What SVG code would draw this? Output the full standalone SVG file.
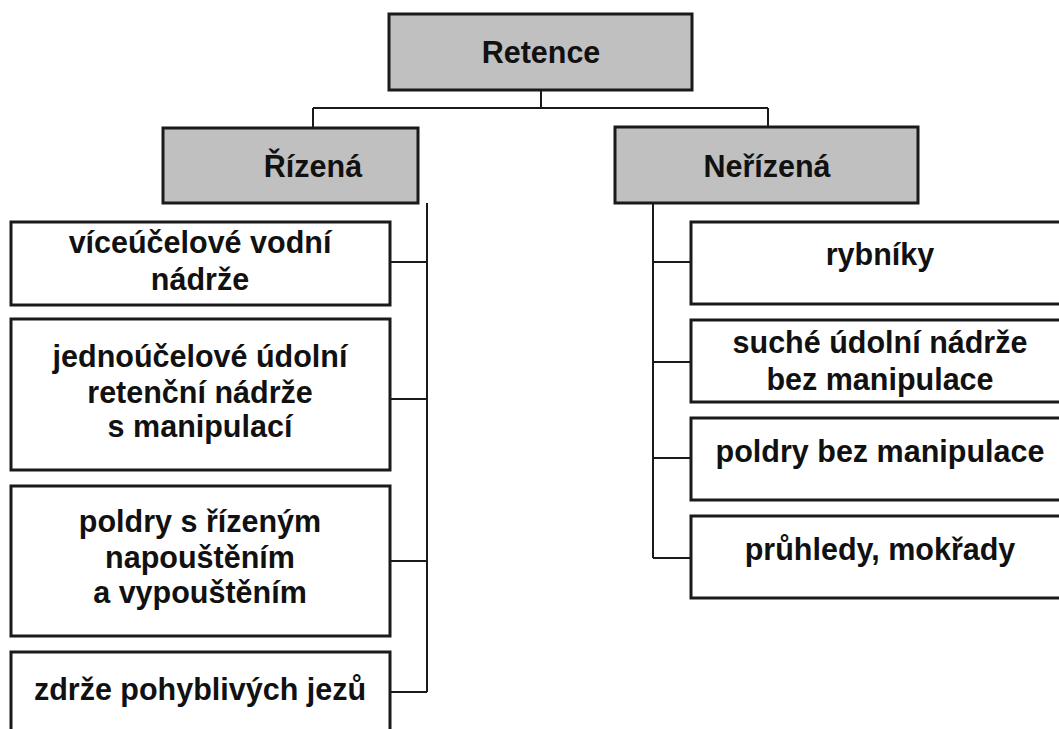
<svg xmlns="http://www.w3.org/2000/svg" width="1059" height="729" viewBox="0 0 1059 729">
<style>
.box{fill:#fff;stroke:#1a1a1a;stroke-width:3}
.hd{fill:#c0c0c0;stroke:#1a1a1a;stroke-width:3}
.t{font-family:"Liberation Sans",Arial,sans-serif;font-weight:bold;font-size:30.5px;fill:#111;text-anchor:middle}
.c{fill:none;stroke:#1a1a1a;stroke-width:2}
</style>
<rect width="1059" height="729" fill="#fff"/>
<g id="connectors">
<path class="c" d="M541 90V108M313 108H768M313 108V128M768 108V127"/>
<path class="c" d="M427 203V692M390 262H427M390 399H427M390 561H427M390 692H427"/>
<path class="c" d="M653 203V558M653 262H691M653 362H691M653 458H691M653 558H691"/>
</g>
<g id="retence"><rect class="hd" x="389" y="14" width="303" height="76"/><text class="t" x="541" y="63">Retence</text></g>
<g id="rizena"><rect class="hd" x="163" y="128" width="255" height="75"/><text class="t" x="313" y="177">Řízená</text></g>
<g id="nerizena"><rect class="hd" x="615" y="127" width="303" height="76"/><text class="t" x="767" y="177">Neřízená</text></g>
<g id="viceucelove"><rect class="box" x="11" y="222" width="379" height="83"/><text class="t" x="200" y="253">víceúčelové vodní</text><text class="t" x="200" y="290">nádrže</text></g>
<g id="jednoucelove"><rect class="box" x="11" y="319" width="379" height="151"/><text class="t" x="200" y="367">jednoúčelové údolní</text><text class="t" x="200" y="403">retenční nádrže</text><text class="t" x="200" y="437">s manipulací</text></g>
<g id="poldry-rizene"><rect class="box" x="11" y="486" width="379" height="150"/><text class="t" x="200" y="532">poldry s řízeným</text><text class="t" x="200" y="568">napouštěním</text><text class="t" x="200" y="603">a vypouštěním</text></g>
<g id="zdrze"><rect class="box" x="11" y="652" width="379" height="100"/><text class="t" x="200" y="700">zdrže pohyblivých jezů</text></g>
<g id="rybniky"><rect class="box" x="691" y="222" width="400" height="82"/><text class="t" x="880" y="265">rybníky</text></g>
<g id="suche"><rect class="box" x="691" y="320" width="400" height="82"/><text class="t" x="880" y="353">suché údolní nádrže</text><text class="t" x="880" y="390">bez manipulace</text></g>
<g id="poldry-bez"><rect class="box" x="691" y="418" width="400" height="82"/><text class="t" x="880" y="462">poldry bez manipulace</text></g>
<g id="pruhledy"><rect class="box" x="691" y="516" width="400" height="82"/><text class="t" x="880" y="560">průhledy, mokřady</text></g>
</svg>
